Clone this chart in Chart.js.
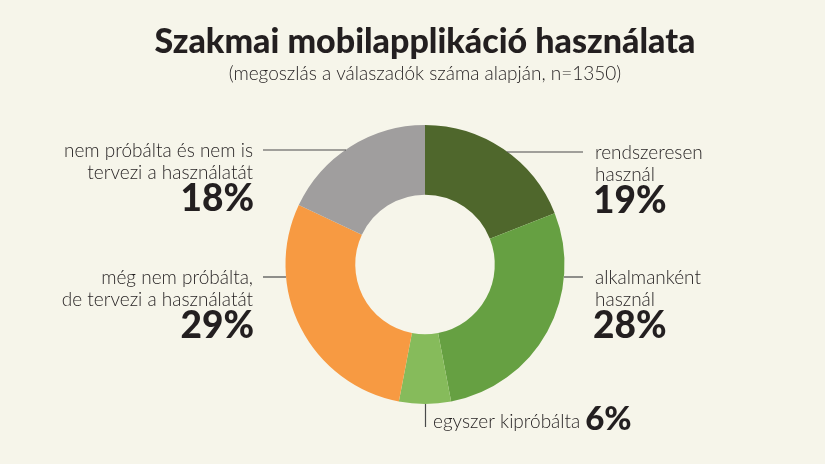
<!DOCTYPE html>
<html>
<head>
<meta charset="utf-8">
<script src="https://cdn.jsdelivr.net/npm/chart.js@4.4.1/dist/chart.umd.min.js"></script>
<style>
  html, body { margin: 0; padding: 0; background: #f6f5ea; }
  #wrap { width: 825px; height: 464px; position: relative; }
</style>
</head>
<body>
<div id="wrap"><canvas id="usageChart" width="825" height="464"></canvas></div>
<script>
// Data
const categories = [
  'rendszeresen használ',
  'alkalmanként használ',
  'egyszer kipróbálta',
  'még nem próbálta, de tervezi a használatát',
  'nem próbálta és nem is tervezi a használatát'
];
const shares = [19, 28, 6, 29, 18];
const labelLines = [
  ['rendszeresen', 'használ'],
  ['alkalmanként', 'használ'],
  ['egyszer kipróbálta'],
  ['még nem próbálta,', 'de tervezi a használatát'],
  ['nem próbálta és nem is', 'tervezi a használatát']
];
const colors = ['#4f672c', '#66a042', '#86bb5b', '#f79a42', '#a09e9e'];

const titleText = 'Szakmai mobilapplikáció használata';
const subtitleText = '(megoszlás a válaszadók száma alapján, n=1350)';

const LIGHT = '300 19px Lato, "Open Sans", sans-serif';
const BOLD = (s) => '900 ' + s + 'px Lato, "Open Sans", sans-serif';
const INK = '#231f20';

// where each label sits, relative to the ring centre (dy in px of the leader line)
const labelPlaces = [
  { side: 'right', dy: -113 },
  { side: 'right', dy: 12 },
  { side: 'bottom' },
  { side: 'left', dy: 12 },
  { side: 'left', dy: -115 }
];

const labelPlugin = {
  id: 'labelPlugin',
  afterDraw(chart) {
    const ctx = chart.ctx;
    const arc = chart.getDatasetMeta(0).data[0];
    const cx = arc.x, cy = arc.y, r = arc.outerRadius;

    ctx.save();
    // title and subtitle
    ctx.fillStyle = INK;
    ctx.textAlign = 'center';
    ctx.textBaseline = 'middle';
    ctx.font = BOLD(34);
    ctx.fillText(titleText, cx, 42);
    ctx.font = LIGHT;
    ctx.fillText(subtitleText, cx, 74);

    ctx.strokeStyle = '#4a4a4a';
    ctx.lineWidth = 1.2;
    labelPlaces.forEach((p, i) => {
      const lines = labelLines[i];
      const pct = shares[i] + '%';
      ctx.fillStyle = INK;
      if (p.side === 'bottom') {
        const y0 = cy + r;
        ctx.beginPath();
        ctx.moveTo(cx + 0.5, y0);
        ctx.lineTo(cx + 0.5, y0 + 23);
        ctx.stroke();
        ctx.textAlign = 'left';
        ctx.font = LIGHT;
        ctx.fillText(lines[0], cx + 8, y0 + 18);
        const w = ctx.measureText(lines[0]).width;
        ctx.font = BOLD(33);
        ctx.fillText(pct, cx + 8 + w + 5, y0 + 15);
        return;
      }
      const y = cy + p.dy;
      const edge = Math.sqrt(Math.max(r * r - p.dy * p.dy, 0));
      ctx.beginPath();
      if (p.side === 'right') {
        ctx.moveTo(cx + edge, y + 0.5);
        ctx.lineTo(cx + 158, y + 0.5);
      } else {
        ctx.moveTo(cx - edge, y + 0.5);
        ctx.lineTo(cx - 162, y + 0.5);
      }
      ctx.stroke();
      const tx = p.side === 'right' ? cx + 170 : cx - 172;
      ctx.textAlign = p.side === 'right' ? 'left' : 'right';
      ctx.font = LIGHT;
      lines.forEach((t, k) => ctx.fillText(t, tx, y + 1 + k * 22));
      ctx.font = BOLD(37);
      ctx.fillText(pct, tx + (p.side === 'right' ? -2 : 1), y + 50);
    });
    ctx.restore();
  }
};

new Chart(document.getElementById('usageChart'), {
  type: 'doughnut',
  data: {
    labels: categories,
    datasets: [{
      data: shares,
      backgroundColor: colors,
      borderWidth: 0,
      hoverOffset: 0
    }]
  },
  options: {
    responsive: false,
    animation: false,
    cutout: '50%',
    layout: { padding: { top: 125, bottom: 60, left: 25, right: 0 } },
    plugins: {
      legend: { display: false },
      title: { display: false },
      tooltip: { enabled: false }
    }
  },
  plugins: [labelPlugin]
});
</script>
</body>
</html>
